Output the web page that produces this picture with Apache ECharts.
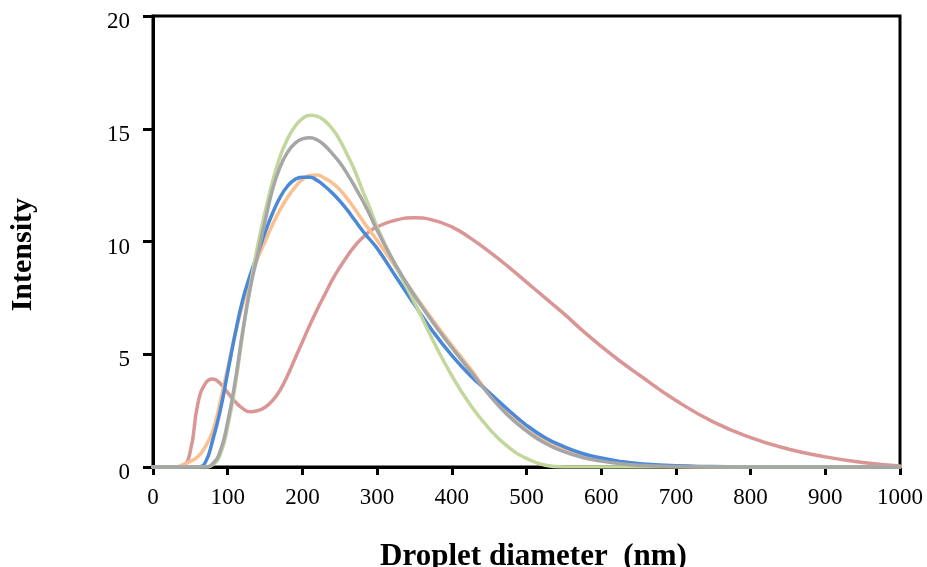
<!DOCTYPE html>
<html>
<head>
<meta charset="utf-8">
<script src="https://cdn.jsdelivr.net/npm/echarts@6/dist/echarts.min.js"></script>
<style>
html,body{margin:0;padding:0;background:#fff;}
#chart{width:927px;height:567px;}
</style>
</head>
<body>
<div id="chart"></div>
<script>
// Droplet diameter (nm)
var diameters = [0,10,20,30,40,50,60,70,80,90,100,110,120,130,140,150,160,170,180,190,200,210,220,230,240,250,260,270,280,290,300,
                 325,350,375,400,425,450,475,500,525,550,575,600,625,650,
                 700,750,800,850,900,950,1000];
var seriesRed    = [0,0,0,0,0.05,0.7,2.8,3.7,3.9,3.7,3.3,2.9,2.6,2.45,2.5,2.65,2.95,3.4,4.05,4.8,5.55,6.3,7.0,7.65,8.3,8.85,9.35,9.8,10.15,10.45,10.65,
                    10.95,11.05,10.95,10.65,10.15,9.55,8.9,8.2,7.5,6.8,6.05,5.35,4.7,4.1,
                    2.95,2.0,1.3,0.8,0.45,0.2,0.05];
var seriesOrange = [0,0,0,0,0.1,0.25,0.45,0.9,1.6,2.9,4.4,5.9,7.2,8.3,9.25,10.0,10.75,11.4,11.95,12.4,12.75,12.93,12.95,12.8,12.6,12.3,11.9,11.45,10.95,10.5,10.05,
                    8.85,7.65,6.5,5.4,4.35,3.25,2.4,1.65,1.15,0.78,0.5,0.32,0.2,0.1,
                    0.03,0,0,0,0,0,0];
var seriesBlue   = [0,0,0,0,0,0,0,0.2,1.2,2.5,4.2,5.9,7.4,8.5,9.45,10.4,11.25,11.95,12.45,12.75,12.85,12.85,12.7,12.45,12.15,11.8,11.4,10.95,10.5,10.1,9.7,
                    8.45,7.2,6.0,4.95,4.05,3.3,2.55,1.85,1.3,0.9,0.6,0.4,0.25,0.15,
                    0.05,0.02,0,0,0,0,0];
var seriesGreen  = [0,0,0,0,0,0,0,0,0.1,0.55,1.8,3.6,5.9,8.0,9.8,11.3,12.65,13.75,14.55,15.1,15.45,15.6,15.55,15.35,15.0,14.5,13.85,13.15,12.3,11.5,10.65,
                    8.9,7.3,5.6,4.05,2.75,1.7,0.9,0.38,0.08,0,0,0,0,0,
                    0,0,0,0,0,0,0];
var seriesGray   = [0,0,0,0,0,0,0,0,0.15,0.7,2.0,3.8,6.0,7.9,9.4,10.9,12.3,13.3,13.95,14.35,14.55,14.6,14.5,14.25,13.9,13.5,13.0,12.45,11.85,11.2,10.5,
                    8.95,7.6,6.4,5.3,4.25,3.2,2.3,1.6,1.05,0.68,0.42,0.26,0.15,0.08,
                    0.02,0,0,0,0,0,0];
var xTicks = [0,100,200,300,400,500,600,700,800,900,1000];
var yTicks = [0,5,10,15,20];

function pairs(ys){ return diameters.map(function(x,i){ return [x, ys[i]]; }); }
function mkSeries(ys, color){
  return {type:'line', data:pairs(ys), smooth:0.5, showSymbol:false, symbol:'none',
    lineStyle:{color:color, width:3.5, cap:'round', join:'round'}, itemStyle:{color:color}, z:3};
}
var chart = echarts.init(document.getElementById('chart'), null, {renderer:'canvas'});
var font = '"Liberation Serif","Times New Roman",serif';
chart.setOption({
  animation:false,
  backgroundColor:'#fff',
  grid:{left:153, right:27, top:16, bottom:100, outerBoundsMode:'none', containLabel:false,
    show:true, borderColor:'#000', borderWidth:3, backgroundColor:'transparent'},
  xAxis:{type:'value', min:xTicks[0], max:xTicks[xTicks.length-1], interval:100,
    name:'Droplet diameter  (nm)', nameLocation:'middle', nameGap:74,
    nameTextStyle:{fontFamily:font, fontWeight:'bold', fontSize:31, color:'#000', padding:[0,0,0,14]},
    axisLine:{show:true, onZero:false, lineStyle:{color:'#000', width:3}},
    axisTick:{show:true, length:8, inside:false, lineStyle:{color:'#000', width:3}},
    axisLabel:{fontFamily:font, fontSize:23, color:'#000', margin:19,
      formatter:function(v){ return String(v); }},
    splitLine:{show:false}},
  yAxis:{type:'value', min:yTicks[0], max:yTicks[yTicks.length-1], interval:5,
    axisLine:{show:true, onZero:false, lineStyle:{color:'#000', width:3}},
    axisTick:{show:true, length:10, inside:false, lineStyle:{color:'#000', width:3}},
    axisLabel:{fontFamily:font, fontSize:23, color:'#000', margin:23, verticalAlign:'top', lineHeight:12},
    splitLine:{show:false}},
  graphic:[{type:'text', left:8, top:198, rotation:Math.PI/2,
    style:{text:'Intensity', font:'bold 30px ' + font, fill:'#000'}}],
  series:[
    mkSeries(seriesRed, '#D99694'),
    mkSeries(seriesOrange, '#FAC090'),
    mkSeries(seriesBlue, '#4A88D8'),
    mkSeries(seriesGreen, '#C3D69B'),
    mkSeries(seriesGray, '#A6A6A6')
  ]
});
</script>
</body>
</html>
